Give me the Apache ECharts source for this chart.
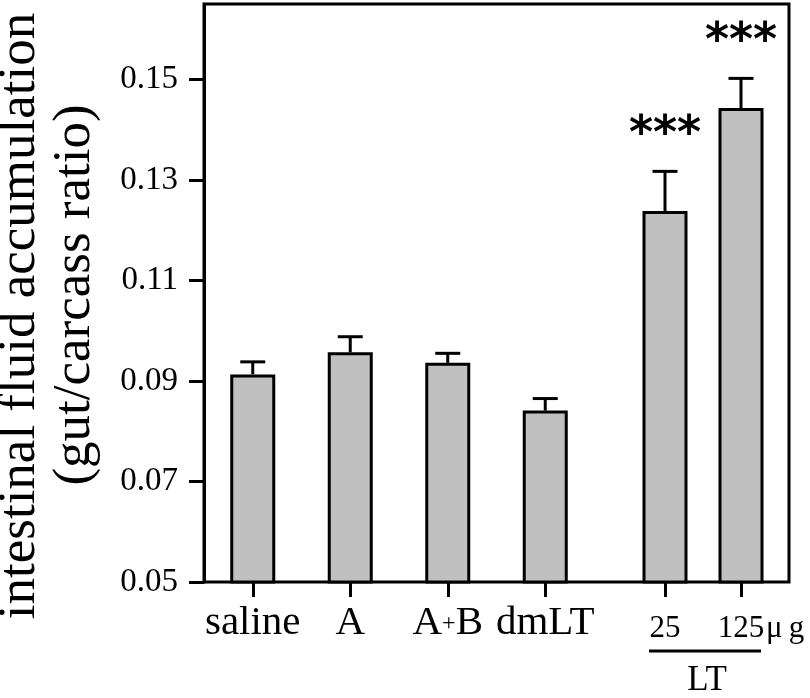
<!DOCTYPE html>
<html><head><meta charset="utf-8">
<script src="https://cdn.jsdelivr.net/npm/echarts@6/dist/echarts.min.js"></script>
<style>html,body{margin:0;padding:0;background:#fff}#c{width:810px;height:698px}</style>
</head><body><div id="c"></div>
<script>
// ---- data ----
const mainCategories = ['saline', 'A', 'A+B', 'dmLT'];
const mainMeans = [0.0913, 0.0957, 0.0936, 0.0841];
const mainSEM = [0.0025, 0.0031, 0.0019, 0.0024];
const mainSignificance = ['', '', '', ''];
const ltDoses = ['25', '125'];
const ltMeans = [0.1238, 0.1443];
const ltSEM = [0.0079, 0.0059];
const ltSignificance = ['***', '***'];
const yTickValues = [0.05, 0.07, 0.09, 0.11, 0.13, 0.15];
const yMin = 0.05, yMax = 0.165;
const yTitleLines = ['intestinal fluid accumulation', '(gut/carcass ratio)'];
const groupLabel = 'LT';
const doseUnit = 'μ\u2009g';

// ---- styling ----
const SERIF = 'Liberation Serif';
const BAR_FILL = '#c0c0c0';
const FRAME = {left: 204, top: 4, width: 585, height: 578};

function makeErrRender(sig) {
  return function (params, api) {
    const idx = api.value(0), mean = api.value(1), sem = api.value(2);
    const p0 = api.coord([idx, mean]);
    const p1 = api.coord([idx, mean + sem]);
    const cap = 12.5;
    const children = [
      {type: 'line', shape: {x1: p0[0], y1: p0[1], x2: p1[0], y2: p1[1]}, style: {stroke: '#000', lineWidth: 3}},
      {type: 'line', shape: {x1: p1[0] - cap, y1: p1[1], x2: p1[0] + cap, y2: p1[1]}, style: {stroke: '#000', lineWidth: 3}}
    ];
    const s = sig[params.dataIndex];
    if (s) {
      children.push({type: 'text', x: p1[0], y: p1[1] - 35,
        style: {text: s, fontSize: 46, fontWeight: 'bold', fontFamily: 'DejaVu Sans', fill: '#000',
          align: 'center', verticalAlign: 'middle', textAlign: 'center', textVerticalAlign: 'middle'}});
    }
    return {type: 'group', children};
  };
}

const hiddenY = (gi) => ({gridIndex: gi, type: 'value', min: yMin, max: yMax, show: false, splitLine: {show: false}});

const option = {
  animation: false,
  backgroundColor: '#fff',
  grid: [
    Object.assign({show: true, borderColor: '#000', borderWidth: 3, backgroundColor: 'transparent'}, FRAME),
    {left: 204, top: 4, width: 390, height: 578},
    {left: 627, top: 4, width: 152, height: 578}
  ],
  xAxis: [
    {gridIndex: 0, type: 'value', show: false},
    {gridIndex: 1, type: 'category', data: mainCategories,
      axisLine: {show: false},
      axisTick: {show: true, alignWithLabel: true, length: 15, lineStyle: {color: '#000', width: 3}},
      axisLabel: {interval: 0, color: '#000', fontFamily: SERIF, fontSize: 41, margin: 21,
        formatter: (v) => v.replace('+', '{p|+}'),
        rich: {p: {fontSize: 24, fontFamily: SERIF, color: '#000', verticalAlign: 'middle'}}}},
    {gridIndex: 2, type: 'category', data: ltDoses,
      axisLine: {show: false},
      axisTick: {show: true, alignWithLabel: true, length: 15, lineStyle: {color: '#000', width: 3}},
      axisLabel: {interval: 0, color: '#000', fontFamily: SERIF, fontSize: 31, margin: 31}}
  ],
  yAxis: [
    {gridIndex: 0, type: 'value', min: yMin, max: yMax,
      splitLine: {show: false},
      axisLine: {show: true, lineStyle: {color: '#000', width: 3}},
      axisTick: {show: true, length: 15, lineStyle: {color: '#000', width: 3}, customValues: yTickValues},
      axisLabel: {color: '#000', fontFamily: SERIF, fontSize: 33, margin: 26,
        customValues: yTickValues, formatter: (v) => v.toFixed(2)}},
    hiddenY(1),
    hiddenY(2)
  ],
  series: [
    {type: 'bar', xAxisIndex: 1, yAxisIndex: 1, data: mainMeans, barWidth: 45,
      itemStyle: {color: BAR_FILL, borderColor: '#000', borderWidth: 3}},
    {type: 'bar', xAxisIndex: 2, yAxisIndex: 2, data: ltMeans, barWidth: 45,
      itemStyle: {color: BAR_FILL, borderColor: '#000', borderWidth: 3}},
    {type: 'custom', xAxisIndex: 1, yAxisIndex: 1,
      data: mainMeans.map((m, i) => [i, m, mainSEM[i]]), encode: {x: 0, y: 1},
      renderItem: makeErrRender(mainSignificance), z: 5},
    {type: 'custom', xAxisIndex: 2, yAxisIndex: 2,
      data: ltMeans.map((m, i) => [i, m, ltSEM[i]]), encode: {x: 0, y: 1},
      renderItem: makeErrRender(ltSignificance), z: 5}
  ],
  graphic: [
    {type: 'text', x: 20, y: 316, rotation: Math.PI / 2,
      style: {text: yTitleLines[0], fontSize: 53, fontFamily: SERIF, fill: '#000', align: 'center', verticalAlign: 'middle'}},
    {type: 'text', x: 75, y: 295, rotation: Math.PI / 2,
      style: {text: yTitleLines[1], fontSize: 53, fontFamily: SERIF, fill: '#000', align: 'center', verticalAlign: 'middle'}},
    {type: 'line', shape: {x1: 649, y1: 651, x2: 761, y2: 651}, style: {stroke: '#000', lineWidth: 3}},
    {type: 'text', x: 707, y: 681,
      style: {text: groupLabel, fontSize: 35, fontFamily: SERIF, fill: '#000', align: 'center', verticalAlign: 'middle'}},
    {type: 'text', x: 766, y: 629,
      style: {text: doseUnit, fontSize: 31, fontFamily: SERIF, fill: '#000', align: 'left', verticalAlign: 'middle'}}
  ]
};

const chart = echarts.init(document.getElementById('c'), null, {renderer: 'canvas'});
chart.setOption(option);
</script>
</body></html>
